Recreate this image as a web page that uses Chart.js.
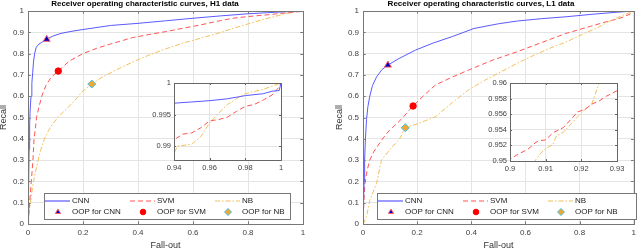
<!DOCTYPE html>
<html>
<head>
<meta charset="utf-8">
<script src="https://cdn.jsdelivr.net/npm/chart.js@4.4.1/dist/chart.umd.min.js"></script>
<style>
html, body { margin: 0; padding: 0; background: #fff; }
#wrap { position: relative; width: 640px; height: 249px; overflow: hidden; }
canvas { position: absolute; }
</style>
</head>
<body>
<div id="wrap">
  <canvas id="h1" width="333" height="249" style="left:-13px;top:0"></canvas>
  <canvas id="l1" width="320" height="249" style="left:320px;top:0"></canvas>
  <canvas id="h1zoom" width="160" height="100" style="left:130px;top:75px"></canvas>
  <canvas id="l1zoom" width="170" height="100" style="left:460px;top:75px"></canvas>
</div>
<script>
// ---- data: [fall-out, recall] pairs ----
const h1Cnn = [[0,0],[0.002,0.15],[0.004,0.35],[0.006,0.47],[0.008,0.54],[0.011,0.6],[0.014,0.66],
  [0.017,0.71],[0.02,0.76],[0.024,0.8],[0.03,0.83],[0.04,0.845],[0.05,0.853],[0.068,0.867],[0.09,0.882],
  [0.12,0.895],[0.16,0.905],[0.2,0.913],[0.3,0.932],[0.4,0.942],[0.5,0.954],[0.6,0.966],[0.7,0.977],
  [0.8,0.987],[0.9,0.994],[0.94,0.9968],[0.95,0.997],[0.96,0.9972],[0.97,0.9975],[0.98,0.998],
  [0.99,0.9983],[0.995,0.9987],[0.999,0.9988],[1,1]];
const h1Svm = [[0,0],[0.003,0.05],[0.006,0.1],[0.009,0.15],[0.012,0.2],[0.015,0.25],[0.018,0.3],
  [0.022,0.4],[0.027,0.45],[0.031,0.5],[0.04,0.55],[0.05,0.6],[0.065,0.65],[0.085,0.69],[0.11,0.718],
  [0.15,0.765],[0.2,0.8],[0.25,0.825],[0.3,0.845],[0.38,0.875],[0.45,0.892],[0.5,0.903],[0.56,0.918],
  [0.625,0.934],[0.7,0.955],[0.745,0.966],[0.8,0.974],[0.87,0.982],[0.9,0.986],[0.92,0.989],[0.94,0.991],
  [0.945,0.9919],[0.95,0.9921],[0.955,0.9929],[0.96,0.994],[0.965,0.9942],[0.97,0.9946],[0.975,0.9955],
  [0.98,0.9963],[0.985,0.9966],[0.99,0.9973],[0.995,0.9981],[0.999,0.9994],[1,1]];
const h1Nb = [[0,0],[0.004,0.05],[0.009,0.1],[0.014,0.15],[0.02,0.2],[0.028,0.25],[0.037,0.3],
  [0.047,0.35],[0.06,0.4],[0.075,0.44],[0.09,0.47],[0.11,0.503],[0.14,0.54],[0.17,0.58],[0.2,0.625],
  [0.232,0.657],[0.27,0.69],[0.32,0.723],[0.38,0.76],[0.44,0.793],[0.5,0.822],[0.565,0.85],[0.63,0.873],
  [0.69,0.895],[0.75,0.92],[0.81,0.943],[0.86,0.962],[0.9,0.975],[0.93,0.985],[0.94,0.9889],[0.942,0.99],
  [0.95,0.9903],[0.955,0.9915],[0.96,0.9937],[0.965,0.9952],[0.97,0.9966],[0.975,0.9975],[0.98,0.9983],
  [0.99,0.999],[1,1]];

const l1Cnn = [[0,0],[0.002,0.1],[0.004,0.2],[0.006,0.3],[0.009,0.4],[0.013,0.49],[0.018,0.55],
  [0.025,0.6],[0.035,0.65],[0.05,0.69],[0.07,0.725],[0.092,0.746],[0.13,0.775],[0.195,0.817],[0.26,0.85],
  [0.33,0.88],[0.41,0.918],[0.5,0.94],[0.57,0.953],[0.66,0.964],[0.75,0.973],[0.85,0.985],[0.935,0.994],[1,1]];
const l1Svm = [[0,0],[0.003,0.1],[0.007,0.19],[0.015,0.25],[0.025,0.3],[0.04,0.34],[0.056,0.37],
  [0.075,0.405],[0.098,0.44],[0.14,0.49],[0.185,0.554],[0.23,0.61],[0.268,0.653],[0.33,0.69],[0.39,0.723],
  [0.48,0.77],[0.57,0.809],[0.66,0.852],[0.75,0.895],[0.84,0.928],[0.9,0.9502],[0.902,0.9508],
  [0.905,0.9515],[0.907,0.9523],[0.908,0.9526],[0.91,0.9527],[0.912,0.9536],[0.915,0.9543],[0.917,0.9553],
  [0.919,0.9563],[0.921,0.9566],[0.923,0.9573],[0.925,0.9577],[0.927,0.9583],[0.93,0.959],[0.96,0.971],
  [0.99,0.988],[1,1]];
const l1Nb = [[0,0],[0.005,0.01],[0.013,0.035],[0.025,0.11],[0.05,0.19],[0.068,0.3],[0.098,0.347],
  [0.135,0.4],[0.156,0.452],[0.207,0.473],[0.268,0.504],[0.33,0.57],[0.39,0.63],[0.45,0.675],[0.51,0.715],
  [0.57,0.755],[0.632,0.793],[0.69,0.825],[0.753,0.856],[0.81,0.89],[0.873,0.926],[0.9,0.945],
  [0.907,0.95],[0.9084,0.9509],[0.91,0.9516],[0.912,0.9521],[0.913,0.9532],[0.915,0.9537],[0.917,0.9547],
  [0.919,0.9557],[0.921,0.9566],[0.923,0.9574],[0.924,0.9587],[0.925,0.96],[0.93,0.963],[0.96,0.98],[1,1]];

// optimal operating points [cnn, svm, nb]
const h1Oop = [[0.068,0.867],[0.11,0.718],[0.232,0.657]];
const l1Oop = [[0.092,0.746],[0.185,0.554],[0.156,0.452]];

const seriesNames = ['CNN', 'SVM', 'NB'];
const oopNames = ['OOP for CNN', 'OOP for SVM', 'OOP for NB'];

const mainXTicks = [0, 0.2, 0.4, 0.6, 0.8, 1];
const mainYTicks = [0, 0.1, 0.2, 0.3, 0.4, 0.5, 0.6, 0.7, 0.8, 0.9, 1];
const h1ZoomX = [0.94, 0.96, 0.98, 1];
const h1ZoomY = [0.99, 0.995, 1];
const l1ZoomX = [0.9, 0.91, 0.92, 0.93];
const l1ZoomY = [0.95, 0.952, 0.954, 0.956, 0.958, 0.96];

// ---- styles ----
const FONT = "'Liberation Sans', Arial, sans-serif";
const LINE_STYLES = [
  { color: '#5a5aff', dash: [] },
  { color: '#ff5555', dash: [5, 3] },
  { color: 'rgb(242,192,90)', dash: [5, 2, 1.5, 2] },
];
const MARKERS = [
  { style: 'triangle', fill: '#0000c8', edge: '#ff6060', r: 4, lr: 3 },
  { style: 'circle', fill: '#ff0000', edge: '#ff0000', r: 3.2, lr: 2.8 },
  { style: 'rectRot', fill: '#f0a830', edge: '#45c0e0', r: 4, lr: 3.5 },
];

Chart.defaults.font.family = FONT;
Chart.defaults.color = '#404040';
Chart.defaults.animation = false;

const xy = pts => pts.map(p => ({ x: p[0], y: p[1] }));

const whiteArea = {
  id: 'whiteArea',
  beforeDraw(chart) {
    const a = chart.chartArea, ctx = chart.ctx;
    ctx.save();
    ctx.fillStyle = '#fff';
    ctx.fillRect(a.left, a.top, a.right - a.left, a.bottom - a.top);
    ctx.restore();
  }
};

// box around the axes with inward tick marks (matlab look)
const boxTicks = {
  id: 'boxTicks',
  afterDatasetsDraw(chart, args, opts) {
    const a = chart.chartArea, ctx = chart.ctx;
    const len = opts.len || 2.5;
    ctx.save();
    ctx.strokeStyle = opts.color || '#777';
    ctx.lineWidth = 1;
    ctx.beginPath();
    chart.scales.x.ticks.forEach(t => {
      const px = Math.round(chart.scales.x.getPixelForValue(t.value)) + 0.5;
      ctx.moveTo(px, a.bottom); ctx.lineTo(px, a.bottom - len);
      ctx.moveTo(px, a.top); ctx.lineTo(px, a.top + len);
    });
    chart.scales.y.ticks.forEach(t => {
      const py = Math.round(chart.scales.y.getPixelForValue(t.value)) + 0.5;
      ctx.moveTo(a.left, py); ctx.lineTo(a.left + len, py);
      ctx.moveTo(a.right, py); ctx.lineTo(a.right - len, py);
    });
    ctx.stroke();
    ctx.strokeRect(Math.round(a.left) + 0.5, Math.round(a.top) + 0.5,
      Math.round(a.right - a.left), Math.round(a.bottom - a.top));
    ctx.restore();
  }
};

// three-column legend inside the axes
const legendBox = {
  id: 'legendBox',
  afterDraw(chart, args, o) {
    const ctx = chart.ctx;
    ctx.save();
    ctx.fillStyle = '#fff';
    ctx.fillRect(o.x, o.y, o.w, o.h);
    ctx.strokeStyle = '#777';
    ctx.lineWidth = 1;
    ctx.strokeRect(o.x + 0.5, o.y + 0.5, o.w, o.h);
    ctx.font = '8px ' + FONT;
    ctx.textBaseline = 'middle';
    const y1 = o.y + 7.5, y2 = o.y + 19;
    for (let i = 0; i < 3; i++) {
      const cx = o.x + 1 + i * 85;
      const ls = LINE_STYLES[i];
      ctx.lineWidth = 1.2;
      ctx.strokeStyle = ls.color;
      ctx.setLineDash(ls.dash);
      ctx.beginPath();
      ctx.moveTo(cx, Math.round(y1));
      ctx.lineTo(cx + 25, Math.round(y1));
      ctx.stroke();
      ctx.setLineDash([]);
      ctx.lineWidth = 1;
      const m = MARKERS[i];
      ctx.fillStyle = m.fill;
      ctx.strokeStyle = m.edge;
      Chart.helpers.drawPoint(ctx, { pointStyle: m.style, radius: m.lr, borderWidth: 1, rotation: 0 }, cx + 13, y2);
      ctx.fillStyle = '#222';
      ctx.fillText(seriesNames[i], cx + 27, y1);
      ctx.fillText(oopNames[i], cx + 27, y2);
    }
    ctx.restore();
  }
};

function lineSets(curves) {
  return curves.map((c, i) => ({
    label: seriesNames[i],
    data: xy(c),
    showLine: true,
    borderColor: LINE_STYLES[i].color,
    borderDash: LINE_STYLES[i].dash,
    borderWidth: 1,
    pointRadius: 0,
    fill: false,
    tension: 0,
    order: 2,
  }));
}

function oopSets(oop) {
  return oop.map((p, i) => ({
    label: oopNames[i],
    data: xy([p]),
    showLine: false,
    pointStyle: MARKERS[i].style,
    pointRadius: MARKERS[i].r,
    backgroundColor: MARKERS[i].fill,
    borderColor: MARKERS[i].edge,
    borderWidth: 1,
    order: 1,
  }));
}

function axis(min, max, ticks, fontSize, pad, size, title) {
  return {
    type: 'linear', min: min, max: max,
    afterBuildTicks: s => { s.ticks = ticks.map(v => ({ value: v })); },
    afterFit: s => { if (s.isHorizontal()) s.height = size; else s.width = size; },
    ticks: { autoSkip: false, padding: pad, font: { size: fontSize }, color: '#404040', callback: v => String(v) },
    grid: { color: '#e4e4e4', drawTicks: false },
    border: { display: false },
    title: title || { display: false },
  };
}

function mainChart(id, titleText, curves, oop, lay) {
  return new Chart(document.getElementById(id), {
    type: 'scatter',
    data: { datasets: oopSets(oop).concat(lineSets(curves)) },
    options: {
      responsive: false,
      layout: { padding: { left: lay.pl, right: lay.pr, top: 0, bottom: 0 } },
      plugins: {
        legend: { display: false },
        tooltip: { enabled: false },
        title: { display: true, text: titleText, color: '#000', font: { size: 8, weight: 'bold', lineHeight: 1 }, padding: { top: 0, bottom: 3 } },
        boxTicks: { color: '#777', len: 2.7 },
        legendBox: lay.legend,
      },
      scales: {
        x: axis(0, 1, mainXTicks, 8, 4, 25,
          { display: true, text: 'Fall-out', color: '#333', font: { size: 9, lineHeight: 0.8 }, padding: { top: 0, bottom: 0 } }),
        y: axis(0, 1, mainYTicks, 8, 4, lay.yw,
          { display: true, text: 'Recall', color: '#333', font: { size: 9, lineHeight: 1 }, padding: { top: lay.tpad, bottom: 0 } }),
      },
    },
    plugins: [whiteArea, boxTicks, legendBox],
  });
}

function zoomChart(id, curves, xr, yr, xt, yt, lay) {
  return new Chart(document.getElementById(id), {
    type: 'scatter',
    data: { datasets: lineSets(curves) },
    options: {
      responsive: false,
      layout: { padding: { left: 0, right: lay.pr, top: 8, bottom: 0 } },
      plugins: {
        legend: { display: false },
        tooltip: { enabled: false },
        boxTicks: { color: '#666', len: 2 },
      },
      scales: {
        x: axis(xr[0], xr[1], xt, 7.5, 3, lay.xh),
        y: axis(yr[0], yr[1], yt, 7.5, 3, lay.yw),
      },
    },
    plugins: [whiteArea, boxTicks],
  });
}

mainChart('h1', 'Receiver operating characteristic curves, H1 data', [h1Cnn, h1Svm, h1Nb], h1Oop,
  { pl: 0, pr: 17, yw: 41, tpad: 12.5, legend: { x: 57, y: 193, w: 246, h: 26 } });
mainChart('l1', 'Receiver operating characteristic curves, L1 data', [l1Cnn, l1Svm, l1Nb], l1Oop,
  { pl: 4, pr: 2, yw: 39, tpad: 11.5, legend: { x: 57, y: 193, w: 259, h: 26 } });

zoomChart('h1zoom', [h1Cnn, h1Svm, h1Nb], [0.94, 1], [0.9878, 1], h1ZoomX, h1ZoomY, { pr: 9, xh: 15, yw: 44 });
zoomChart('l1zoom', [l1Cnn, l1Svm, l1Nb], [0.9, 0.93], [0.95, 0.96], l1ZoomX, l1ZoomY, { pr: 13, xh: 14, yw: 50 });
</script>
</body>
</html>
